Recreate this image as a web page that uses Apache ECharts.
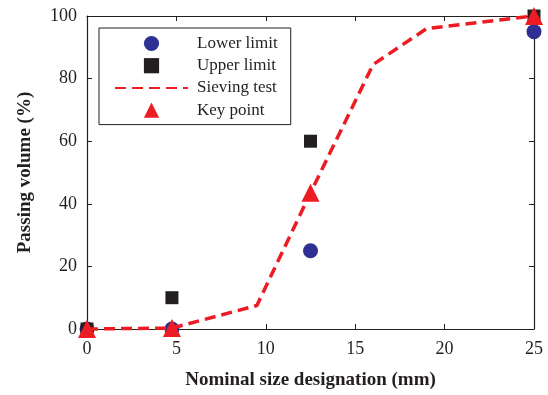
<!DOCTYPE html>
<html><head><meta charset="utf-8">
<script src="https://cdn.jsdelivr.net/npm/echarts@6/dist/echarts.min.js"></script>
<style>html,body{margin:0;padding:0;background:#fff}#c{width:548px;height:395px}</style>
</head><body><div id="c"></div>
<script>
var lowerX = [0, 4.75, 12.5, 25];
var lowerY = [0, 0, 25, 95];
var upperX = [0, 4.75, 12.5, 25];
var upperY = [0, 10, 60, 100];
var sieveX = [0, 4.75, 9.5, 12.5, 16, 19, 25];
var sieveY = [0, 0.3, 7.5, 43.5, 84.5, 96, 100];
var keyX = [0, 4.75, 12.5, 25];
var keyY = [0, 0.3, 43.5, 100];
var xTicks = [0, 5, 10, 15, 20, 25];
var yTicks = [0, 20, 40, 60, 80, 100];

function pairs(xs, ys){ return xs.map(function(x,i){return [x, ys[i]];}); }
var font = 'Liberation Serif';
var ink = '#231f20';
var chart = echarts.init(document.getElementById('c'));
var hidden = {opacity:0, width:0};
function axisBase(extra){
  var o = {
    axisLine:{onZero:false, lineStyle:{color:ink, width:1.2}},
    axisTick:{inside:true, length:5, lineStyle:{color:ink}},
    splitLine:{show:false}
  };
  for (var k in extra) o[k] = extra[k];
  return o;
}
chart.setOption({
  animation:false,
  textStyle:{fontFamily:font},
  grid:{left:87, right:14, top:16, bottom:63},
  legend:{
    left:99, top:28, orient:'vertical',
    borderColor:ink, borderWidth:1, padding:[7, 13, 6, 15],
    itemWidth:73, itemHeight:19, itemGap:5.2,
    textStyle:{fontFamily:font, fontSize:17, color:ink, padding:[0,0,0,4]},
    data:['Lower limit','Upper limit',{name:'Sieving test', itemStyle:{opacity:0}},'Key point']
  },
  xAxis:[axisBase({
    type:'value', min:0, max:25, interval:5,
    name:'Nominal size designation (mm)', nameLocation:'middle', nameGap:42,
    nameTextStyle:{fontFamily:font, fontWeight:'bold', fontSize:19, color:ink},
    axisLabel:{fontFamily:font, fontSize:18, color:ink, margin:11,
      formatter:function(v){return xTicks.indexOf(v)>=0? String(v):'';}}
  }), axisBase({
    type:'value', min:0, max:25, interval:5, position:'top',
    axisLabel:{show:false}
  })],
  yAxis:[axisBase({
    type:'value', min:0, max:100, interval:20,
    name:'Passing volume (%)', nameLocation:'middle', nameGap:52,
    nameTextStyle:{fontFamily:font, fontWeight:'bold', fontSize:19, color:ink},
    axisLabel:{fontFamily:font, fontSize:18, color:ink, margin:10,
      formatter:function(v){return yTicks.indexOf(v)>=0? String(v):'';}}
  }), axisBase({
    type:'value', min:0, max:100, interval:20, position:'right',
    axisLabel:{show:false}
  })],
  series:[
    {name:'Lower limit', type:'line', data:pairs(lowerX, lowerY), symbol:'circle', symbolSize:15,
     itemStyle:{color:'#2e3192'}, lineStyle:hidden, clip:false, z:3},
    {name:'Upper limit', type:'line', data:pairs(upperX, upperY), symbol:'rect', symbolSize:13,
     itemStyle:{color:ink}, lineStyle:hidden, clip:false, z:3},
    {name:'Sieving test', type:'line', data:pairs(sieveX, sieveY), symbol:'none',
     lineStyle:{color:'#ed1c24', width:3.5, type:[11,6]}, itemStyle:{color:'#ed1c24'}, clip:false, z:4},
    {name:'Key point', type:'line', data:pairs(keyX, keyY), symbol:'triangle', symbolSize:18,
     itemStyle:{color:'#ed1c24'}, lineStyle:hidden, clip:false, z:5}
  ]
});
</script></body></html>
